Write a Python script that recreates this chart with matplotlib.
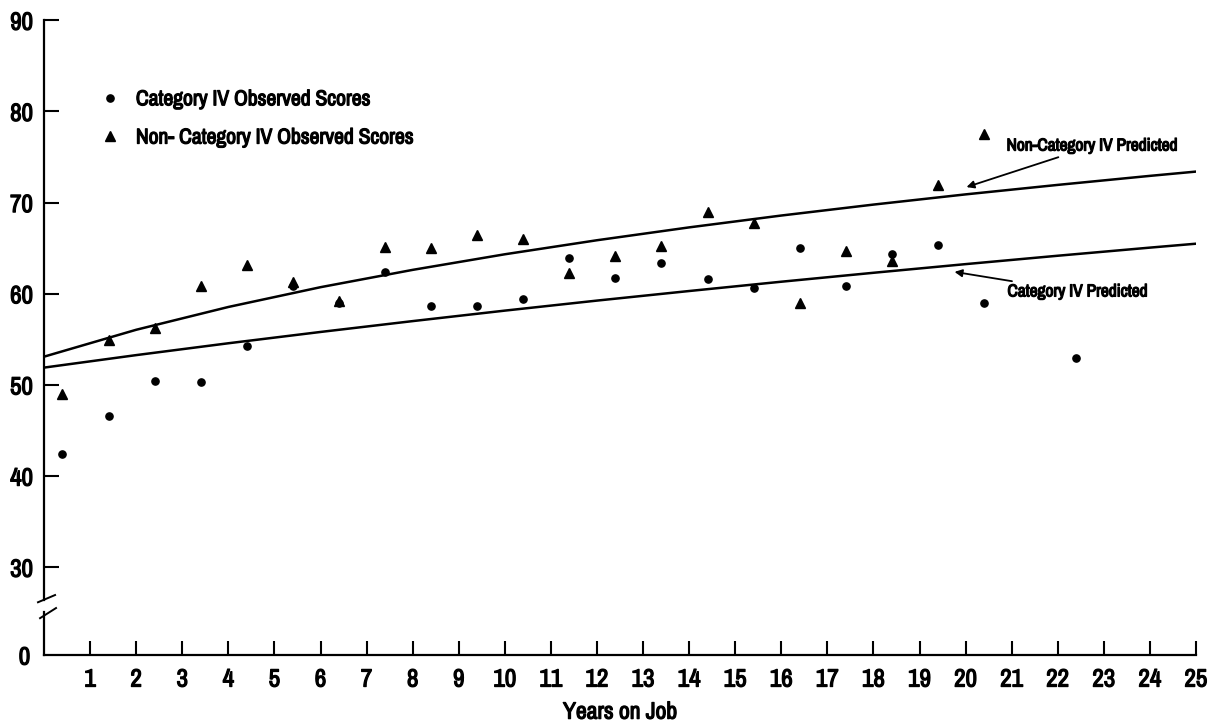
import matplotlib
matplotlib.use('Agg')
import matplotlib.pyplot as plt
import matplotlib.patheffects as pe
from matplotlib.lines import Line2D

plt.rcParams['font.family'] = ['Archivo Narrow', 'DejaVu Sans']
plt.rcParams['font.weight'] = 'bold'

# heavier strokes on the text to mimic the bold condensed type
bold = [pe.withStroke(linewidth=0.9, foreground='black')]

# observed scores
years = [0.4, 1.4, 2.4, 3.4, 4.4, 5.4, 6.4, 7.4, 8.4, 9.4, 10.4, 11.4, 12.4,
         13.4, 14.4, 15.4, 16.4, 17.4, 18.4, 19.4, 20.4]
cat4_years = years + [22.4]
cat4_scores = [42.4, 46.6, 50.4, 50.3, 54.3, 60.9, 59.0, 62.4, 58.7, 58.7, 59.4,
               63.9, 61.7, 63.4, 61.6, 60.6, 65.0, 60.9, 64.4, 65.4, 59.0, 53.0]
non_cat4_scores = [49.0, 54.9, 56.2, 60.9, 63.1, 61.3, 59.2, 65.1, 65.0, 66.4, 66.0,
                   62.3, 64.1, 65.2, 69.0, 67.8, 59.0, 64.7, 63.6, 71.9, 77.5]

# predicted curves, read at a few points along each line
pred_years = [0, 2, 4, 6, 8, 10, 12, 14, 16, 18, 20, 22, 24, 25]
non_cat4_pred = [53.1, 56.05, 58.55, 60.72, 62.62, 64.33, 65.87, 67.28, 68.58,
                 69.78, 70.90, 71.94, 72.93, 73.40]
cat4_pred = [51.9, 53.27, 54.57, 55.81, 57.00, 58.15, 59.25, 60.30, 61.32,
             62.30, 63.25, 64.17, 65.06, 65.49]

y_ticks = [30, 40, 50, 60, 70, 80, 90]
x_ticks = list(range(1, 26))

fig = plt.figure(figsize=(12.1, 7.23), dpi=100)
ax = fig.add_axes([0.0364, 0.170, 0.952, 0.802])
axb = fig.add_axes([0.0364, 0.094, 0.952, 0.0595], sharex=ax)

# predicted lines
ax.plot(pred_years, non_cat4_pred, color='black', lw=1.8, solid_capstyle='round')
ax.plot(pred_years, cat4_pred, color='black', lw=1.8, solid_capstyle='round')

# observed points
ax.plot(cat4_years, cat4_scores, 'o', color='black', ms=5.2,
        label='Category IV Observed Scores')
ax.plot(years, non_cat4_scores, '^', color='black', ms=6.5,
        label='Non- Category IV Observed Scores')

ax.set_xlim(0, 25)
ax.set_ylim(26.4, 90)
ax.set_yticks(y_ticks)
ax.tick_params(axis='y', direction='in', length=11, width=1.5, labelsize=18, pad=8)
ax.tick_params(axis='x', bottom=False, labelbottom=False)
for s in ['top', 'right', 'bottom']:
    ax.spines[s].set_visible(False)
ax.spines['left'].set_linewidth(1.6)

axb.set_ylim(0, 4.71)
axb.set_yticks([0])
axb.set_yticklabels(['0'])
axb.set_xticks(x_ticks)
axb.tick_params(axis='y', length=0, labelsize=18, pad=10)
axb.tick_params(axis='x', direction='in', length=10, width=1.5, labelsize=18, pad=9)
for s in ['top', 'right']:
    axb.spines[s].set_visible(False)
axb.spines['left'].set_linewidth(1.6)
axb.spines['bottom'].set_linewidth(1.6)
axb.set_xlabel('Years on Job', fontsize=17, labelpad=8)

# axis break marks
fig.add_artist(Line2D([0.0314, 0.0455], [0.167, 0.177], color='black', lw=1.4))
fig.add_artist(Line2D([0.0331, 0.0463], [0.145, 0.159], color='black', lw=1.4))

leg = ax.legend(loc='upper left', bbox_to_anchor=(0.048, 0.881), frameon=False,
                fontsize=15.5, handletextpad=0.7, labelspacing=0.85,
                borderaxespad=0, handlelength=1.0, borderpad=0)

arrow = dict(arrowstyle='-|>', color='black', lw=1.3, mutation_scale=11,
             shrinkA=2, shrinkB=0)
a1 = ax.annotate('Non-Category IV Predicted', xy=(20.02, 71.7), xytext=(20.89, 76.2),
                 fontsize=12.5, va='center', ha='left', arrowprops=arrow)
a2 = ax.annotate('Category IV Predicted', xy=(19.76, 62.4), xytext=(20.91, 60.2),
                 fontsize=12.5, va='center', ha='left', arrowprops=arrow)

texts = (ax.get_yticklabels() + axb.get_yticklabels() + axb.get_xticklabels()
         + leg.get_texts() + [axb.xaxis.label])
for t in texts:
    t.set_path_effects(bold)
for a in (a1, a2):
    a.set_path_effects(bold)
    a.arrow_patch.set_path_effects([])

fig.savefig('out.png', dpi=100)
